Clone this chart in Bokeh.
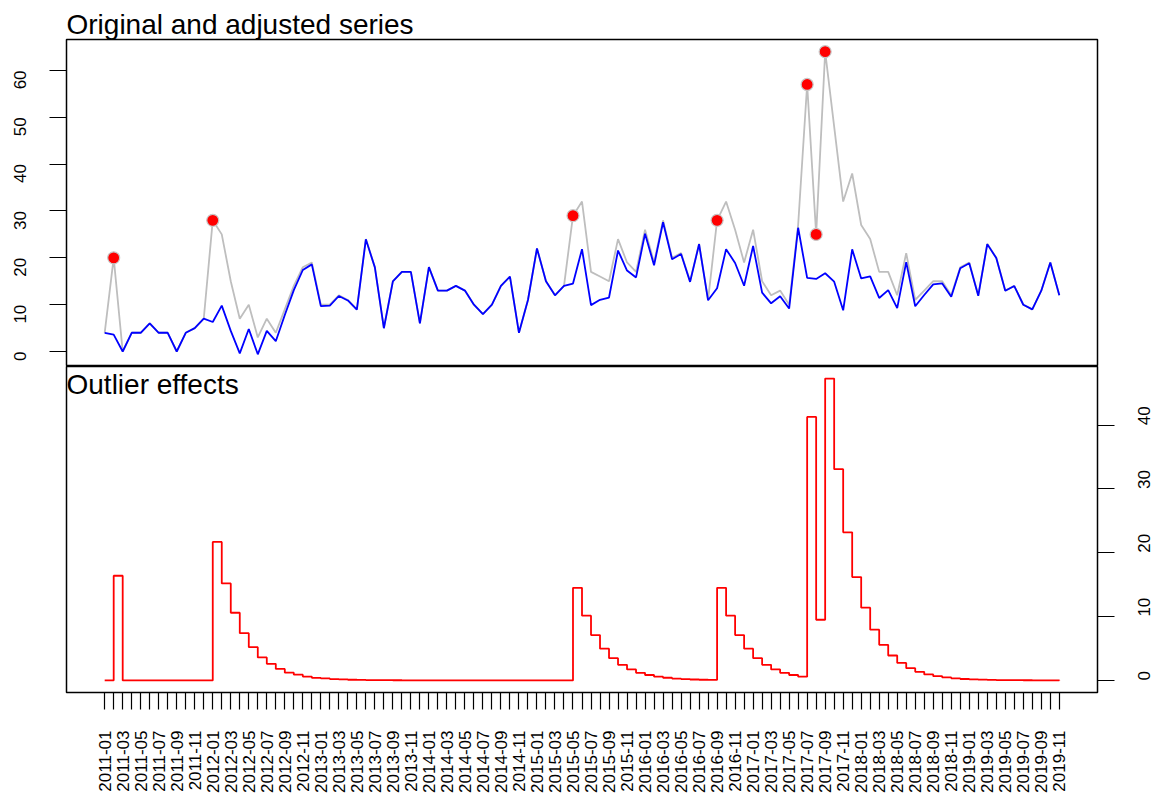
import math
from bokeh.plotting import figure
from bokeh.models import Range1d, FixedTicker, Label, Title
from bokeh.layouts import column
from bokeh.embed import file_html
from bokeh.resources import INLINE

# ---------------- data ----------------
months = [f"{y}-{m:02d}" for y in range(2011, 2020) for m in range(1, 13)][:107]

original = [4, 20, 0, 4, 4, 6, 4, 4, 0, 4, 5, 7,
            28, 25, 15, 7, 10, 3, 7, 4, 9, 14, 18, 19,
            10, 10, 12, 11, 9, 24, 18, 5, 15, 17, 17, 6,
            18, 13, 13, 14, 13, 10, 8, 10, 14, 16, 4, 11,
            22, 15, 12, 14, 29, 32, 17, 16, 15, 24, 19, 17,
            26, 19, 28, 20, 21, 15, 23, 11, 28, 32, 26, 19,
            26, 15, 12, 13, 10, 27, 57, 25, 64, 48, 32, 38,
            27, 24, 17, 17, 12, 21, 11, 13, 15, 15, 12, 18,
            19, 12, 23, 20, 13, 14, 10, 9, 13, 19, 12]

adjusted = [4, 3.6, 0, 4, 4, 6, 4, 4, 0, 4, 5, 7,
            6.3, 9.8, 4.4, -0.4, 4.8, -0.6, 4.4, 2.2, 7.8, 13.1, 17.4, 18.6,
            9.7, 9.8, 11.85, 10.9, 8.93, 23.95, 17.96, 4.97, 14.98, 16.99, 17, 6,
            18, 13, 13, 14, 13, 10, 8, 10, 14, 16, 4, 11,
            22, 15, 12, 14, 14.5, 21.85, 9.9, 11.03, 11.52, 21.56, 17.29, 15.81,
            25.16, 18.42, 27.59, 19.71, 20.8, 14.86, 22.9, 10.93, 13.5, 21.85, 18.9, 14.03,
            22.52, 12.56, 10.29, 11.81, 9.16, 26.42, 15.7, 15.5, 16.7, 14.9, 8.8, 21.8,
            15.6, 16.05, 11.43, 13.1, 9.27, 19.09, 9.66, 12.06, 14.34, 14.54, 11.68, 17.78,
            18.84, 11.89, 22.92, 19.95, 12.96, 13.97, 9.98, 8.99, 12.99, 18.99, 12]

effects = [0, 16.4, 0, 0, 0, 0, 0, 0, 0, 0, 0, 0,
           21.7, 15.2, 10.6, 7.4, 5.2, 3.6, 2.6, 1.8, 1.2, 0.9, 0.6, 0.4,
           0.3, 0.2, 0.15, 0.1, 0.07, 0.05, 0.04, 0.03, 0.02, 0.01, 0, 0,
           0, 0, 0, 0, 0, 0, 0, 0, 0, 0, 0, 0,
           0, 0, 0, 0, 14.5, 10.15, 7.1, 4.97, 3.48, 2.44, 1.71, 1.19,
           0.84, 0.58, 0.41, 0.29, 0.2, 0.14, 0.1, 0.07, 14.5, 10.15, 7.1, 4.97,
           3.48, 2.44, 1.71, 1.19, 0.84, 0.58, 41.3, 9.5, 47.3, 33.1, 23.2, 16.2,
           11.4, 7.95, 5.57, 3.9, 2.73, 1.91, 1.34, 0.94, 0.66, 0.46, 0.32, 0.22,
           0.16, 0.11, 0.08, 0.05, 0.04, 0.03, 0.02, 0.01, 0.01, 0.01, 0]

outlier_idx = [1, 12, 52, 68, 78, 79, 80]

upper_ticks = [0, 10, 20, 30, 40, 50, 60]
lower_ticks = [0, 10, 20, 30, 40]

# ---------------- layout ----------------
FONT = "Liberation Sans"
idx = list(range(len(months)))
x0 = -0.04 * (len(idx) - 1)
x1 = (len(idx) - 1) * 1.04
xr = Range1d(x0, x1)

y_up = Range1d(-3.2, 66.6)
y_lo = Range1d(-1.9, 49.2)


def style_axis(ax, ticks, standoff):
    ax.ticker = FixedTicker(ticks=ticks, minor_ticks=[])
    ax.axis_line_color = None
    ax.major_tick_line_color = "black"
    ax.major_tick_line_width = 1.2
    ax.major_tick_in = 0
    ax.major_tick_out = 17
    ax.minor_tick_line_color = None
    ax.major_label_text_font = FONT
    ax.major_label_text_font_size = "17px"
    ax.major_label_text_color = "black"
    ax.major_label_orientation = math.pi / 2
    ax.major_label_standoff = standoff


p1 = figure(frame_width=1031, frame_height=327, x_range=xr, y_range=y_up,
            output_backend="svg", toolbar_location=None,
            x_axis_location=None, y_axis_location="left",
            min_border_left=66, min_border_right=67, min_border_top=39,
            min_border_bottom=0)
p1.title = Title(text="Original and adjusted series", align="left",
                 text_font=FONT, text_font_size="28px", text_font_style="normal",
                 text_color="black", standoff=0, offset=0)
p1.grid.visible = False
p1.outline_line_color = "black"
p1.outline_line_width = 1.5
style_axis(p1.yaxis[0], upper_ticks, 29)

p1.line(idx, original, line_color="#BEBEBE", line_width=1.8)
p1.line(idx, adjusted, line_color="#0000FF", line_width=1.8)
p1.scatter([idx[i] for i in outlier_idx], [original[i] for i in outlier_idx],
           size=12, fill_color="#FF0000", line_color="#C8C8C8", line_width=1.2)

p2 = figure(frame_width=1031, frame_height=326, x_range=xr, y_range=y_lo,
            output_backend="svg", toolbar_location=None, title=None,
            x_axis_location="below", y_axis_location="right",
            min_border_left=66, min_border_right=67, min_border_top=0,
            min_border_bottom=104)
p2.grid.visible = False
p2.outline_line_color = "black"
p2.outline_line_width = 1.5
style_axis(p2.yaxis[0], lower_ticks, 30)
style_axis(p2.xaxis[0], idx, 21)
p2.xaxis[0].major_label_overrides = {i: (months[i] if i % 2 == 0 else "") for i in idx}

p2.step(idx, effects, mode="after", line_color="#FF0000", line_width=1.8)

p2.add_layout(Label(x=x0, y=49.2, text="Outlier effects",
                    text_font=FONT, text_font_size="28px",
                    text_color="black", text_align="left",
                    text_baseline="alphabetic", y_offset=-18))

layout = column(p1, p2, spacing=0)

open("out.html", "w").write(file_html(layout, INLINE))
